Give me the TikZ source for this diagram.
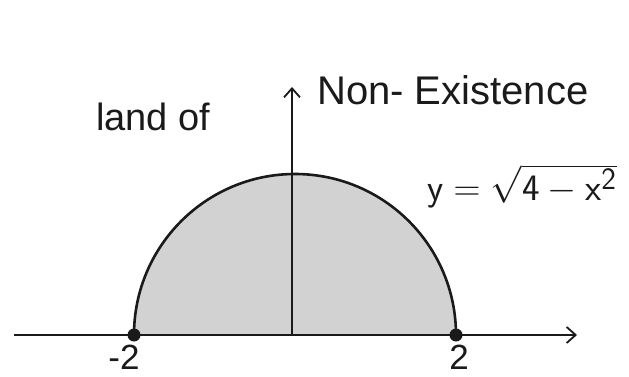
\documentclass[tikz,border=0pt]{standalone}
\usepackage{fontspec}
\setmainfont{Liberation Sans}
\usetikzlibrary{arrows.meta,positioning}
\definecolor{ink}{HTML}{1A1A1A}
\definecolor{pencil}{HTML}{D2D2D2}
\tikzset{
  axis/.style  = {draw=ink, line width=2pt, -{Straight Barb[length=9pt,width=16pt,line width=1.8pt]}},
  yaxis/.style = {axis, line width=1.4pt},
  curve/.style = {draw=ink, line width=2.6pt},
  dot/.style   = {circle, fill=ink, inner sep=0pt, minimum size=13pt},
  hand/.style  = {font=\fontsize{38}{42}\selectfont, text=ink, inner sep=0pt},
}

\begin{document}
\begin{tikzpicture}[x=1pt,y=1pt]
\useasboundingbox (0,0) rectangle (629,376);
% axes ends
\coordinate (O) at (292,41);
\coordinate (xl) at (14,41);
\coordinate (xr) at (577,41);
\coordinate (yt) at (292,289);
\coordinate (m2) at (134,41);
\coordinate (p2) at (456,41);
% shaded half disc
\fill[pencil] (m2) arc[start angle=180, end angle=0, radius=161] -- cycle;
% axes
\draw[axis] (xl) -- (xr);
\draw[yaxis] (O) -- (yt);
\draw[curve] (m2) arc[start angle=180, end angle=0, radius=161];
\node[dot] (dm2) at (m2) {};
\node[dot] (dp2) at (p2) {};
% labels
\node[hand, anchor=base west] (land) at (96,246) {land of};
\node[hand, anchor=base west, font=\fontsize{40}{44}\selectfont] (non) at (317,272) {Non- Existence};
\node[hand, anchor=base west, font=\Huge] (eq) at (427,176) {\scalebox{1.5}{$\mathsf{y}=\sqrt{\mathsf{4}-\mathsf{x}^{\mathsf{2}}}$}};
\node[hand, below=3pt of dm2, xshift=-10pt, font=\fontsize{35}{40}\selectfont] (lm2) {-2};
\node[hand, below=3pt of dp2, xshift=3pt, font=\fontsize{35}{40}\selectfont] (lp2) {2};
\end{tikzpicture}
\end{document}
